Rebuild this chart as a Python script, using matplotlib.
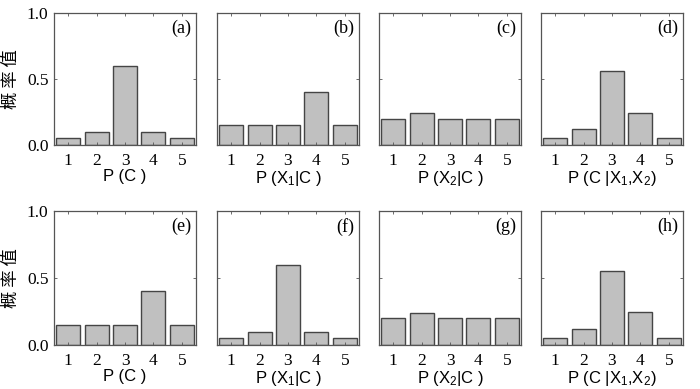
import matplotlib
matplotlib.use("Agg")
import matplotlib.pyplot as plt
import numpy as np

plt.rcParams['mathtext.default'] = 'regular'

categories = [1, 2, 3, 4, 5]
yticks = [0.0, 0.5, 1.0]
ytick_labels = ["0.0", "0.5", "1.0"]

p_a = [0.05, 0.10, 0.60, 0.10, 0.05]
p_b = [0.15, 0.15, 0.15, 0.40, 0.15]
p_c = [0.20, 0.24, 0.20, 0.20, 0.20]
p_d = [0.05, 0.12, 0.56, 0.245, 0.05]
p_e = [0.15, 0.15, 0.15, 0.40, 0.15]
p_f = [0.05, 0.10, 0.60, 0.10, 0.05]
p_g = [0.20, 0.24, 0.20, 0.20, 0.20]
p_h = [0.05, 0.12, 0.55, 0.25, 0.05]

series = [p_a, p_b, p_c, p_d, p_e, p_f, p_g, p_h]
panel_labels = ["(a)", "(b)", "(c)", "(d)", "(e)", "(f)", "(g)", "(h)"]
xlabels = ["P (C )", "P (X$_1$|C )", "P (X$_2$|C )", "P (C |X$_1$,X$_2$)"] * 2
ylabel = "概 率 值"

W, H = 700, 389
fig = plt.figure(figsize=(7, 3.89), dpi=100)

lefts = [54, 217, 379, 541]
width = 142
rows = [(13, 145), (211, 345)]

serif = "Liberation Serif"
sans = "Liberation Sans"
edge = "#454545"

for i, vals in enumerate(series):
    r, c = divmod(i, 4)
    top, bot = rows[r]
    ax = fig.add_axes([lefts[c] / W, 1 - bot / H, width / W, (bot - top) / H])
    ax.bar(categories, vals, width=0.84, color="#c0c0c0", edgecolor=edge, linewidth=1.0)
    ax.set_xlim(0.5, 5.5)
    ax.set_ylim(0, 1.0)
    ax.set_xticks(categories)
    ax.set_xticklabels([str(x) for x in categories], fontfamily=serif, fontsize=12.5)
    ax.set_yticks(yticks)
    if c == 0:
        ax.set_yticklabels(ytick_labels, fontfamily=serif, fontsize=12.5)
        ax.set_ylabel(ylabel, fontfamily="Noto Sans CJK SC", fontsize=12.5, labelpad=5)
    else:
        ax.set_yticklabels([])
    ax.tick_params(direction="in", length=2.5, width=0.6, color="#555555",
                   top=True, right=True)
    ax.tick_params(axis="x", pad=6)
    ax.tick_params(axis="y", pad=4)
    for s in ax.spines.values():
        s.set_color("#555555")
        s.set_linewidth(0.9)
    ax.set_xlabel(xlabels[i], fontfamily=sans, fontsize=12, labelpad=0)
    ax.text(0.97, 0.95, panel_labels[i], transform=ax.transAxes, ha="right", va="top",
            fontfamily=serif, fontsize=13)

fig.savefig("out.png", dpi=100)
